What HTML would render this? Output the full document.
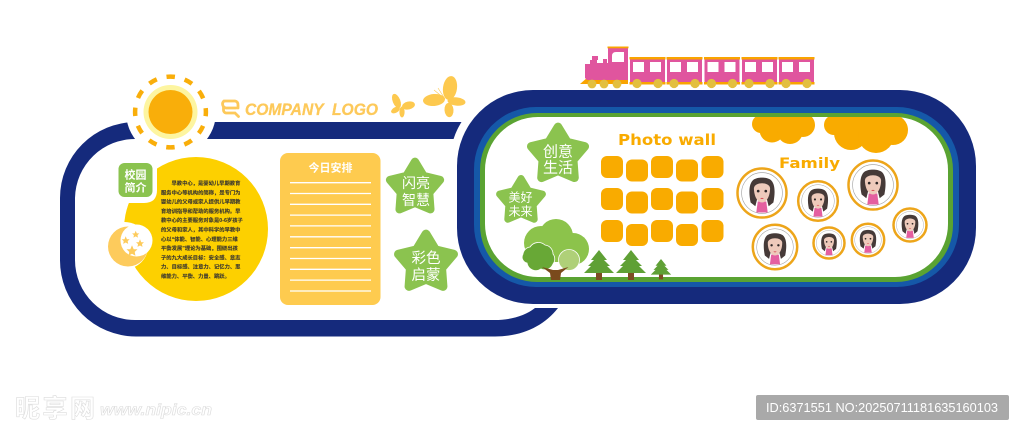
<!DOCTYPE html>
<html lang="zh"><head><meta charset="utf-8"><title>校园文化墙</title>
<style>
html,body{margin:0;padding:0;background:#fff}
svg{display:block}
text{font-family:"Liberation Sans","Noto Sans CJK SC",sans-serif}
.st{font-family:"Noto Sans CJK SC","WenQuanYi Zen Hei",sans-serif;fill:#fff;font-weight:400;text-anchor:middle}
</style></head><body>
<svg width="1024" height="435" viewBox="0 0 1024 435" xmlns="http://www.w3.org/2000/svg">
<defs>
<g id="star"><polygon points="0,-85 28,-39 81,-26 46,15 50,69 0,48 -50,69 -46,15 -81,-26 -28,-39" fill="#8bc34f" stroke="#8bc34f" stroke-width="26" stroke-linejoin="round"/></g>
<polygon id="ss" points="0,-10 2.900,-3.100 9.500,-3.100 4.700,1.500 5.900,8.100 0,4.800 -5.900,8.100 -4.700,1.500 -9.500,-3.100 -2.900,-3.100" fill="#fdcb5c"/>
<g id="face">
<circle r="23.500" fill="#fff"/>
<circle r="21.500" fill="#fff" stroke="#9a9a9a" stroke-width=".6"/>
<path d="M-4.500 9 L4.500 9 L6 20.500 L-6 20.500 Z" fill="#e45fa0"/>
<path d="M-12 10 C-14 0 -14 -10 -9 -14 C-5 -17 5 -17 9 -14 C14 -10 14 0 12 10 L7 14 L5 6 L-5 6 L-7 14 Z" fill="#463a38"/>
<path d="M-8.500 -5 C-8 -12 8 -12 8.500 -5 C8.500 3 5 10 0 10 C-5 10 -8.500 3 -8.500 -5 Z" fill="#eecabb"/>
<circle cx="-4" cy="-2" r="1.400" fill="#2c2626"/><circle cx="4" cy="-2" r="1.400" fill="#2c2626"/>
<path d="M-2 5.500 Q0 7 2 5.500 Q0 4.800 -2 5.500Z" fill="#d8414d"/>
</g>
<g id="pine"><rect x="-3" y="22" width="6" height="8" fill="#7c4d22"/><path d="M0 0 L8 10 L5 10 L11 16 L8 16 L15 23 L-15 23 L-8 16 L-11 16 L-5 10 L-8 10 Z" fill="#5fa035"/></g>
<g id="car">
<rect x="0" y="2" width="35" height="25" fill="#e0559e"/>
<rect x="-.5" y="0" width="36" height="2.500" fill="#f9a400"/>
<rect x="-.5" y="25" width="36" height="2.500" fill="#f9a400"/>
<rect x="3" y="5" width="11" height="10" fill="#fff"/><rect x="20" y="5" width="11" height="10" fill="#fff"/>
<circle cx="7" cy="26.500" r="4.600" fill="#e3bf3f"/><circle cx="28" cy="26.500" r="4.600" fill="#e3bf3f"/>
</g>
<clipPath id="cl"><rect x="740" y="117" width="180" height="45"/></clipPath>
</defs>

<!-- left band -->
<path d="M463 122 H136 A76 76 0 0 0 60 198 V260 A76 76 0 0 0 136 336.500 H495 C522 336.500 544 326 558 308 H535 C525 316 510 320 495 320 H136 A60 60 0 0 1 75 260 V198 A60 60 0 0 1 136 139 H454 Z" fill="#152a7c"/>

<!-- halo right capsule -->
<rect x="449" y="82" width="535" height="225" rx="84" fill="#fff"/>
<!-- capsule -->
<rect x="457" y="90" width="519" height="214" rx="76" fill="#152a7c"/>
<rect x="474" y="107" width="485" height="180" rx="62" fill="#1558a8"/>
<rect x="480" y="113" width="473" height="169" rx="57" fill="#5aa332"/>
<rect x="485" y="117" width="463" height="160" rx="53" fill="#fff"/>

<!-- sun -->
<circle cx="171" cy="112" r="45" fill="#fff"/>
<circle cx="170.500" cy="112" r="35.400" fill="none" stroke="#f9ae0a" stroke-width="4.500" stroke-dasharray="8.500 10.030" stroke-dashoffset="4.250"/>
<circle cx="170.500" cy="112" r="27" fill="#fdf5a0"/>
<circle cx="170.500" cy="112" r="22" fill="#f9ae0a"/>

<!-- logo -->
<g fill="none" stroke="#fdc95a" stroke-width="2.800" stroke-linecap="round">
<path d="M236 108 H226 A4 4 0 0 1 224 101 H235 A3.500 3.500 0 0 1 238 105 V108"/>
<path d="M223.500 107 V110 A3 3 0 0 0 226 113 H235 L238.500 116.500"/>
</g>
<text x="245" y="115" font-size="16.500" font-weight="700" font-style="italic" fill="#fdc95a" stroke="#fdc95a" stroke-width=".3" textLength="133" lengthAdjust="spacingAndGlyphs" xml:space="preserve">COMPANY  LOGO</text>

<!-- butterflies -->
<g fill="#fdc94f">
<ellipse cx="450" cy="88" rx="7" ry="12" transform="rotate(8 450 88)"/>
<ellipse cx="434" cy="100" rx="11" ry="6" transform="rotate(-5 434 100)"/>
<ellipse cx="456.500" cy="101.500" rx="9" ry="4.200" transform="rotate(6 456.500 101.500)"/>
<ellipse cx="449" cy="110" rx="4.500" ry="7.200" transform="rotate(-4 449 110)"/>
<path d="M434 90 L445 99 M438 88 L445 99" stroke="#fdc94f" stroke-width=".6"/>
<ellipse cx="396.500" cy="101" rx="3.800" ry="7.500" transform="rotate(-22 396.500 101)"/>
<ellipse cx="408.500" cy="105.500" rx="6.500" ry="4" transform="rotate(-12 408.500 105.500)"/>
<ellipse cx="395.500" cy="110" rx="4.800" ry="2.800" transform="rotate(-30 395.500 110)"/>
<ellipse cx="402" cy="112" rx="2.600" ry="5.500"/>
</g>

<!-- intro circle -->
<circle cx="196" cy="229" r="72" fill="#fdd000"/>
<path d="M110 155 H157 V190 Q157 203 144 203 H110 Z" fill="#fff"/>
<rect x="118.500" y="163" width="34" height="34" rx="6" fill="#8bc34f"/>
<text x="135.500" y="178.500" font-size="11" font-weight="700" fill="#fff" text-anchor="middle">校园</text>
<text x="135.500" y="191.500" font-size="11" font-weight="700" fill="#fff" text-anchor="middle">简介</text>
<circle cx="124.800" cy="245.500" r="23.500" fill="#fff"/>
<circle cx="128" cy="246.500" r="20" fill="#fdcb5c"/>
<circle cx="136.500" cy="240.500" r="16" fill="#fff"/>
<use href="#ss" transform="translate(135.700,234.500) scale(.38)"/>
<use href="#ss" transform="translate(125.700,240.500) scale(.42)"/>
<use href="#ss" transform="translate(140,243.500) scale(.42)"/>
<use href="#ss" transform="translate(132,251) scale(.58)"/>
<g font-size="5.300" font-weight="700" fill="#3f3b2e" stroke="#3f3b2e" stroke-width=".12" style="font-family:'Noto Sans CJK SC',sans-serif">
<text x="171.500" y="185">早教中心，是婴幼儿早期教育</text>
<text x="161" y="194.300">服务中心等机构的简称，是专门为</text>
<text x="161" y="203.600">婴幼儿的父母或家人提供儿早期教</text>
<text x="161" y="212.900">育培训指导和帮助的服务机构。早</text>
<text x="161" y="222.200">教中心的主要服务对象是0-6岁孩子</text>
<text x="161" y="231.500">的父母和家人，其中科学的早教中</text>
<text x="161" y="240.800">心以“体能、智能、心理能力三维</text>
<text x="161" y="250.100">平衡发展”理论为基础，围绕出孩</text>
<text x="161" y="259.400">子的九大成长目标：安全感、意志</text>
<text x="161" y="268.700">力、目标感、注意力、记忆力、思</text>
<text x="161" y="278">维能力、平衡、力量、跳跃。</text>
</g>

<!-- schedule -->
<rect x="280" y="153" width="100.500" height="152" rx="8" fill="#fecb4f"/>
<text x="330.500" y="171.500" font-size="11" font-weight="700" fill="#fff" text-anchor="middle">今日安排</text>
<g stroke="#fff" stroke-width="1.300">
<path d="M290 182.700H371M290 193.500H371M290 204.300H371M290 215.100H371M290 225.900H371M290 236.800H371M290 247.700H371M290 258.500H371M290 269.300H371M290 280.100H371M290 291H371"/>
</g>

<!-- stars -->
<use href="#star" transform="translate(415,188) scale(.31)"/>
<text class="st" x="416" y="188" font-size="14">闪亮</text><text class="st" x="416" y="205" font-size="14">智慧</text>
<use href="#star" transform="translate(426,263) scale(.34)"/>
<text class="st" x="426" y="263" font-size="14.500">彩色</text><text class="st" x="426" y="280" font-size="14.500">启蒙</text>
<use href="#star" transform="translate(558,155) scale(.33)"/>
<text class="st" x="558" y="156.500" font-size="15">创意</text><text class="st" x="558" y="172.500" font-size="15">生活</text>
<use href="#star" transform="translate(521,201) scale(.265)"/>
<text class="st" x="520.500" y="201.500" font-size="12">美好</text><text class="st" x="520.500" y="215.500" font-size="12">未来</text>

<!-- photo wall -->
<text x="618" y="145" font-size="15" font-weight="700" fill="#f9ab00" textLength="98" lengthAdjust="spacingAndGlyphs" style="font-family:'DejaVu Sans',sans-serif">Photo wall</text>
<g fill="#f9ab00">
<rect x="601" y="156" width="22" height="22" rx="6"/><rect x="626" y="159.500" width="22" height="22" rx="6"/><rect x="651" y="156" width="22" height="22" rx="6"/><rect x="676" y="159.500" width="22" height="22" rx="6"/><rect x="701.500" y="156" width="22" height="22" rx="6"/>
<rect x="601" y="188" width="22" height="22" rx="6"/><rect x="626" y="191.500" width="22" height="22" rx="6"/><rect x="651" y="188" width="22" height="22" rx="6"/><rect x="676" y="191.500" width="22" height="22" rx="6"/><rect x="701.500" y="188" width="22" height="22" rx="6"/>
<rect x="601" y="220" width="22" height="22" rx="6"/><rect x="626" y="224" width="22" height="22" rx="6"/><rect x="651" y="220" width="22" height="22" rx="6"/><rect x="676" y="224" width="22" height="22" rx="6"/><rect x="701.500" y="220" width="22" height="22" rx="6"/>
</g>

<!-- tree -->
<g fill="#8cc34b">
<circle cx="556" cy="236" r="17"/><circle cx="541" cy="243" r="17"/><circle cx="573" cy="249" r="16"/><rect x="530" y="240" width="40" height="22"/>
</g>
<g fill="#68a836" stroke="#fff" stroke-width=".8">
<path d="M523 254 A8 8 0 0 1 530 247 A10 10 0 0 1 545 245 A9 9 0 0 1 553 254 A8 8 0 0 1 553 264 A9 9 0 0 1 541 269 A9 9 0 0 1 527 263 A6 6 0 0 1 523 254 Z"/>
</g>
<circle cx="569" cy="260" r="10.500" fill="#afd078" stroke="#fff" stroke-width=".8"/>
<path d="M542 267 L553 270 L558 270 L568.500 267 L561 273 L560 280 L551 280 L550 273 Z" fill="#7a4a1c"/>
<use href="#pine" transform="translate(599,250)"/>
<use href="#pine" transform="translate(631,250)"/>
<use href="#pine" transform="translate(661,259) scale(.68)"/>

<!-- train -->
<path d="M580 84 L588 77 H628 V84 Z" fill="#f9a400"/>
<rect x="608" y="47" width="20" height="33" fill="#e0559e"/>
<rect x="607.500" y="46.500" width="21" height="1.800" fill="#f9a400"/>
<path d="M612 62 V56 Q612 52 616 52 H624 V62 Z" fill="#fff"/>
<path d="M585 64 H590 V60 H592 V56 H598 V60 H597 V63 H603 V59 H607 V63 H608 V80 H587 L585 78 Z" fill="#e0559e"/>
<circle cx="592" cy="84" r="4.400" fill="#e3bf3f"/><circle cx="604" cy="84" r="4.400" fill="#e3bf3f"/><circle cx="617" cy="84" r="4.400" fill="#e3bf3f"/>
<use href="#car" transform="translate(630,57)"/>
<use href="#car" transform="translate(667,57)"/>
<use href="#car" transform="translate(704.500,57)"/>
<use href="#car" transform="translate(742,57)"/>
<use href="#car" transform="translate(779,57)"/>

<!-- clouds -->
<g fill="#f9ab00" clip-path="url(#cl)">
<circle cx="761" cy="124" r="9"/><circle cx="772" cy="130" r="12.500"/><circle cx="790" cy="131" r="13"/><circle cx="803" cy="125" r="12"/><rect x="761" y="117" width="42" height="12"/>
<circle cx="834" cy="125" r="10"/><circle cx="851" cy="133" r="17"/><circle cx="876" cy="135" r="18"/><circle cx="893" cy="130" r="15"/><rect x="834" y="117" width="60" height="15"/>
</g>
<text x="779" y="168" font-size="14.500" font-weight="700" fill="#f9ab00" textLength="61" lengthAdjust="spacingAndGlyphs" style="font-family:'DejaVu Sans',sans-serif">Family</text>

<!-- faces -->
<use href="#face" transform="translate(762,193) scale(.95)"/>
<use href="#face" transform="translate(818,201) scale(.76)"/>
<use href="#face" transform="translate(873,185) scale(.95)"/>
<use href="#face" transform="translate(910,225) scale(.63)"/>
<use href="#face" transform="translate(868,240) scale(.62)"/>
<use href="#face" transform="translate(829,243) scale(.59)"/>
<use href="#face" transform="translate(775,247) scale(.85)"/>
<g fill="none" stroke="#eda51a" stroke-width="2.500">
<circle cx="762" cy="193" r="24.500"/><circle cx="818" cy="201" r="19.800"/><circle cx="873" cy="185" r="24.500"/><circle cx="910" cy="225" r="16.500"/><circle cx="868" cy="240" r="16.200"/><circle cx="829" cy="243" r="15.500"/><circle cx="775" cy="247" r="22.200"/>
</g>

<!-- watermark -->
<g fill="#fff" stroke="#dcdcdc" stroke-width=".6">
<text x="15" y="417" font-size="25" font-weight="700" textLength="80" style="font-family:'Noto Sans CJK SC',sans-serif">昵享网</text>
<text x="100" y="415" font-size="15.500" font-weight="700" font-style="italic" textLength="112" lengthAdjust="spacingAndGlyphs">www.nipic.cn</text>
</g>
<rect x="756" y="395" width="253" height="25" rx="2" fill="#a9a9a9"/>
<text x="766" y="412" font-size="13" fill="#fff" textLength="232" lengthAdjust="spacingAndGlyphs">ID:6371551 NO:20250711181635160103</text>
</svg>
</body></html>
